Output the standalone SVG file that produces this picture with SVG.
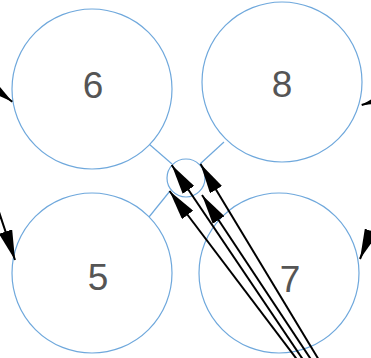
<svg xmlns="http://www.w3.org/2000/svg" width="371" height="358" viewBox="0 0 371 358">
<defs>
<style>
.node circle{fill:#fff;stroke:#6fa8dc;stroke-width:1.2}
.node text{font-family:"Liberation Sans",Arial,sans-serif;font-size:37px;fill:#555;text-anchor:middle}
.link{stroke:#6fa8dc;stroke-width:1.2;fill:none}
.arrow{stroke:#000;stroke-width:2;fill:none;marker-end:url(#ah)}
</style>
<marker id="ah" viewBox="0 0 30 14" refX="30" refY="7" markerWidth="30" markerHeight="14" markerUnits="userSpaceOnUse" orient="auto">
<path d="M0,0 L30,7 L0,14 Z" fill="#000"/>
</marker>
</defs>
<g id="links">
<line class="link" x1="149" y1="144" x2="172" y2="164"/>
<line class="link" x1="224" y1="142" x2="200" y2="164"/>
<line class="link" x1="149" y1="217" x2="170" y2="191"/>
</g>
<g id="node6" class="node"><circle cx="92" cy="89" r="80"/><text x="93" y="98">6</text></g>
<g id="node8" class="node"><circle cx="282" cy="82" r="80"/><text x="282" y="97">8</text></g>
<g id="node5" class="node"><circle cx="92" cy="273" r="80"/><text x="98" y="290">5</text></g>
<g id="node7" class="node"><circle cx="279" cy="273" r="80"/><text x="290" y="292">7</text></g>
<g id="node0" class="node"><circle cx="186" cy="178" r="19"/></g>
<g id="arrows">
<line class="arrow" x1="310" y1="370" x2="171.7" y2="165"/>
<line class="arrow" x1="325" y1="370" x2="200.5" y2="164"/>
<line class="arrow" x1="305" y1="370" x2="169.5" y2="191"/>
<line class="arrow" x1="318" y1="370" x2="202" y2="195"/>
<line class="arrow" x1="-30" y1="70" x2="12.3" y2="101.7"/>
<line class="arrow" x1="-5" y1="200" x2="15" y2="260"/>
<line class="arrow" x1="400" y1="93" x2="361.7" y2="105"/>
<line class="arrow" x1="380" y1="210" x2="360" y2="259"/>
</g>
</svg>
